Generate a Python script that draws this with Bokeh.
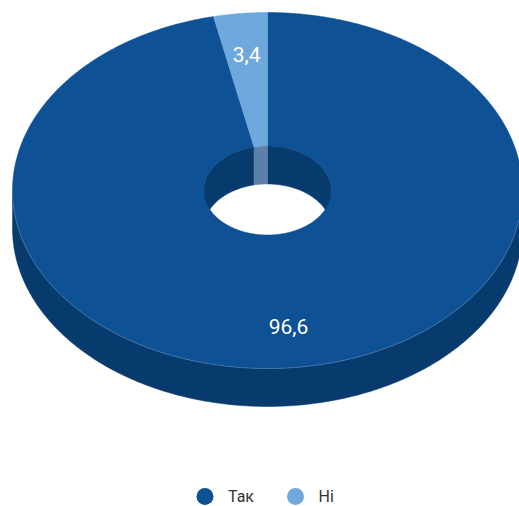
import numpy as np
from bokeh.plotting import figure
from bokeh.models import Range1d
from bokeh.core.properties import value
from bokeh.embed import file_html
from bokeh.resources import INLINE

# ---- data ----
categories = ["Так", "Ні"]
values = [96.6, 3.4]
labels = ["96,6", "3,4"]
top_colors = ["#0e5195", "#6fa8dc"]
side_colors = ["#083b6d", "#5b80a9"]

# ---- geometry (pixel space) ----
W, H = 519, 506
cx, cy = 267.0, 190.0
rx, ry = 255.0, 178.0
depth = 38.0
inner = 0.25
label_frac = 0.77

p = figure(width=W, height=H, output_backend="svg", toolbar_location=None,
           x_range=Range1d(0, W), y_range=Range1d(H, 0),
           min_border=0)
p.axis.visible = False
p.grid.visible = False
p.outline_line_color = None
p.background_fill_color = "white"
p.border_fill_color = "white"


def pts(thetas, frac, dy=0.0):
    t = np.radians(thetas)
    return cx + frac * rx * np.cos(t), cy - frac * ry * np.sin(t) + dy


def intersect(lo, hi, vlo, vhi):
    out = []
    for k in range(-2, 3):
        a, b = max(lo, vlo + 360 * k), min(hi, vhi + 360 * k)
        if b > a:
            out.append((a, b))
    return out


# slice angle ranges: start at top, clockwise
total = sum(values)
ranges = []
start = 90.0
for v in values:
    sweep = 360.0 * v / total
    ranges.append((start - sweep, start))
    start -= sweep

# outer side walls (lower half visible)
for (lo, hi), col in zip(ranges, side_colors):
    for a, b in intersect(lo, hi, 180, 360):
        t = np.linspace(a, b, 200)
        x1, y1 = pts(t, 1.0)
        x2, y2 = pts(t[::-1], 1.0, depth)
        p.patch(np.concatenate([x1, x2]), np.concatenate([y1, y2]),
                fill_color=col, line_color=col, line_width=0.5)

# inner walls (far half visible through hole)
for (lo, hi), col in zip(ranges, side_colors):
    for a, b in intersect(lo, hi, 0, 180):
        t = np.linspace(a, b, 120)
        x1, y1 = pts(t, inner)
        x2, y2 = pts(t[::-1], inner, depth)
        p.patch(np.concatenate([x1, x2]), np.concatenate([y1, y2]),
                fill_color=col, line_color=col, line_width=0.5)

# top faces
for (lo, hi), col in zip(ranges, top_colors):
    n = max(int((hi - lo) * 2), 20)
    t = np.linspace(lo, hi, n)
    x1, y1 = pts(t, 1.0)
    x2, y2 = pts(t[::-1], inner)
    p.patch(np.concatenate([x1, x2]), np.concatenate([y1, y2]),
            fill_color=col, line_color=col, line_width=0.5)

# subtle rim highlight along the front edge
t = np.linspace(180, 360, 200)
xr, yr = pts(t, 1.0)
p.line(xr, yr, line_color="#5a88bb", line_width=1, line_alpha=0.6)

# data labels
lx, ly = [], []
for (lo, hi) in ranges:
    mid = (lo + hi) / 2
    x, y = pts(np.array([mid]), label_frac)
    lx.append(x[0]); ly.append(y[0])
p.text(x=lx, y=ly, text=labels, text_color="white", text_font=value("Roboto"),
       text_font_size="21px", text_align="center", text_baseline="middle")

# legend
leg_x = [204.5, 295.0]
leg_y = [496.0, 496.0]
p.scatter(x=leg_x, y=leg_y, size=17, marker="circle", fill_color=top_colors,
          line_color=None)
p.text(x=[x + 23 for x in leg_x], y=[496.0, 496.0], text=categories,
       text_color="#333333", text_font=value("Roboto"), text_font_size="16px",
       text_align="left", text_baseline="middle")

open("out.html", "w").write(file_html(p, INLINE))
